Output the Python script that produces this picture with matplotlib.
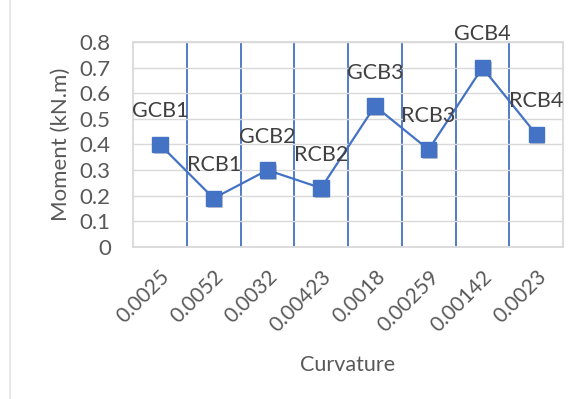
import matplotlib.pyplot as plt
import matplotlib.patheffects as pe
from matplotlib.lines import Line2D
import numpy as np

plt.rcParams['font.family'] = ['Lato', 'DejaVu Sans']

curvature = ["0.0025", "0.0052", "0.0032", "0.00423", "0.0018", "0.00259", "0.00142", "0.0023"]
moment = [0.40, 0.19, 0.30, 0.23, 0.55, 0.38, 0.70, 0.44]
names = ["GCB1", "RCB1", "GCB2", "RCB2", "GCB3", "RCB3", "GCB4", "RCB4"]

blue = "#4472C4"
grey_text = "#595959"

fig = plt.figure(figsize=(5.79, 3.99), dpi=100)
ax = fig.add_axes([0.2297, 0.381, 0.7427, 0.5137])

x = np.arange(len(moment))
ax.plot(x, moment, color=blue, lw=1.6, zorder=3)
ax.plot(x, moment, ls="none", marker="s", ms=11, mec=blue, mfc=blue,
        path_effects=[pe.SimplePatchShadow(offset=(1.2, -1.5), alpha=0.25), pe.Normal()],
        zorder=4)

for xi, yi, name in zip(x, moment, names):
    ax.annotate(name, (xi, yi), xytext=(0, 24), textcoords="offset points",
                ha="center", va="center", fontsize=15.5, color="#404040",
                annotation_clip=False, zorder=5)

ax.set_xlim(-0.5, len(moment) - 0.5)
ax.set_ylim(0, 0.8)
ax.set_yticks(np.arange(0, 0.81, 0.1))
ax.set_yticklabels(["0", "0.1", "0.2", "0.3", "0.4", "0.5", "0.6", "0.7", "0.8"])
ax.set_xticks(x)
ax.set_xticklabels(curvature, rotation=45, ha="right", rotation_mode="anchor")
ax.set_xticks(x[:-1] + 0.5, minor=True)

ax.tick_params(axis="y", length=0, pad=16, labelsize=16, labelcolor=grey_text)
ax.tick_params(axis="x", which="major", length=0, pad=14, labelsize=15, labelcolor=grey_text)
ax.tick_params(axis="x", which="minor", length=0)

ax.grid(axis="y", color="#D9D9D9", lw=1)
ax.grid(axis="x", which="minor", color=blue, lw=1.3)
ax.set_axisbelow(True)
for s in ax.spines.values():
    s.set_color("#D9D9D9")
    s.set_linewidth(1.3)

ax.set_ylabel("Moment (kN.m)", fontsize=16, color=grey_text, labelpad=6)
ax.set_xlabel("Curvature", fontsize=15.5, color=grey_text, labelpad=14)

fig.add_artist(Line2D([10 / 579, 10 / 579], [0, 1], transform=fig.transFigure,
                      color="#E3E3E3", lw=1.2))

fig.savefig("out.png", dpi=100)
